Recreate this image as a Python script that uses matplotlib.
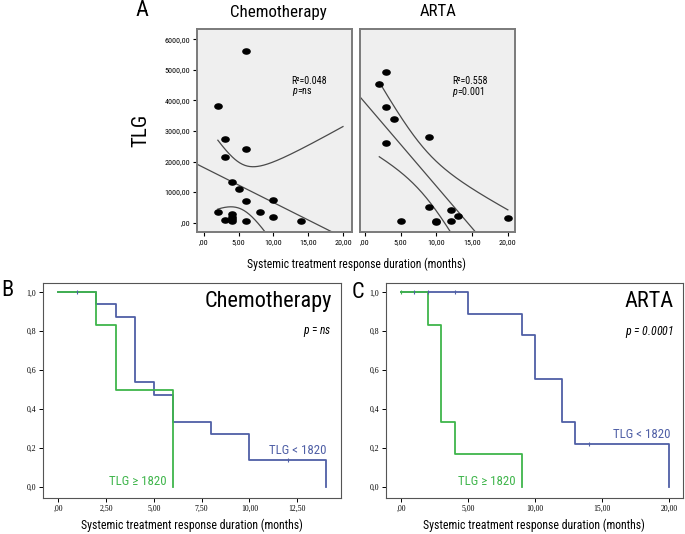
import matplotlib
matplotlib.use("Agg")
import matplotlib.pyplot as plt
from matplotlib import font_manager
from matplotlib.path import Path
import numpy as np

# pick a condensed sans if one is installed, else shrink Liberation Sans
_names = {f.name for f in font_manager.fontManager.ttflist}
NARROW = None
for cand in ['Liberation Sans Narrow', 'Roboto Condensed', 'Open Sans Condensed',
             'Arial Narrow']:
    if cand in _names:
        NARROW = cand
        break
if NARROW:
    FAM = NARROW
    S = 1.0
else:
    FAM = 'Liberation Sans'
    S = 0.86
plt.rcParams['font.family'] = [FAM, 'Liberation Sans', 'DejaVu Sans']
plt.rcParams['mathtext.fontset'] = 'custom'
plt.rcParams['mathtext.rm'] = FAM
plt.rcParams['mathtext.it'] = FAM + ':italic'

# --- panel A: scatter, TLG vs response duration ---
chemo_x = [6, 2, 3, 6, 3, 4, 5, 6, 10, 2, 8, 4, 4, 4, 4, 3, 6, 10, 14]
chemo_y = [5600, 3820, 2730, 2410, 2160, 1330, 1090, 700, 740, 340, 340,
           280, 200, 120, 50, 90, 45, 200, 65]
arta_x = [3, 2, 3, 4, 9, 3, 9, 12, 13, 5, 10, 10, 12, 20]
arta_y = [4940, 4530, 3780, 3400, 2790, 2610, 500, 410, 220, 65, 45, 20, 44, 140]
t_crit = {17: 2.110, 12: 2.179}   # two-sided 95% t values

# --- panels B, C: Kaplan-Meier steps ---
b_low_t = [0, 2, 3, 4, 5, 6, 8, 10, 14]
b_low_s = [1.0, 0.94, 0.875, 0.54, 0.47, 0.335, 0.27, 0.135, 0.0]
b_low_cens = [(1, 1.0), (12, 0.135)]
b_high_t = [0, 2, 3, 6]
b_high_s = [1.0, 0.833, 0.5, 0.0]

c_low_t = [0, 5, 9, 10, 12, 13, 20]
c_low_s = [1.0, 0.889, 0.778, 0.556, 0.333, 0.222, 0.0]
c_low_cens = [(1, 1.0), (2, 1.0), (4, 1.0), (14, 0.222)]
c_high_t = [0, 2, 3, 4, 9]
c_high_s = [1.0, 0.833, 0.333, 0.167, 0.0]
c_high_cens = [(0, 1.0)]

BLUE = '#4f5fa6'
GREEN = '#3fb54b'

_th = np.linspace(0, 2 * np.pi, 40)
DOT = Path(np.column_stack([1.4 * np.cos(_th), np.sin(_th)]), closed=True)


def comma(v, dec):
    s = f"{v:.{dec}f}".replace('.', ',')
    if s.startswith('0,') and dec == 2:
        s = s[1:]
    return s


def scatter_panel(ax, x, y, r2txt, ptxt, show_y, tx):
    x = np.array(x, float)
    y = np.array(y, float)
    ax.set_facecolor('#efefef')
    ax.plot(x, y, ls='none', marker=DOT, color='black', ms=5.2, mec='black',
            zorder=3)
    n = len(x)
    b, a = np.polyfit(x, y, 1)
    xx = np.linspace(-2, 22, 200)
    ax.plot(xx, a + b * xx, color='#4a4a4a', lw=0.9)
    s = np.sqrt(np.sum((y - (a + b * x)) ** 2) / (n - 2))
    sxx = np.sum((x - x.mean()) ** 2)
    xc = np.linspace(x.min(), 20, 200)
    h = t_crit[n - 2] * s * np.sqrt(1 / n + (xc - x.mean()) ** 2 / sxx)
    ax.plot(xc, a + b * xc + h, color='#4a4a4a', lw=0.9)
    ax.plot(xc, a + b * xc - h, color='#4a4a4a', lw=0.9)
    ax.set_ylim(-305, 6350)
    ax.set_xticks([0, 5, 10, 15, 20])
    ax.set_xticklabels([comma(v, 2) for v in [0, 5, 10, 15, 20]])
    ax.set_yticks(range(0, 7000, 1000))
    if show_y:
        ax.set_yticklabels([comma(v, 2) for v in range(0, 7000, 1000)])
    else:
        ax.tick_params(axis='y', left=False, labelleft=False)
    ax.tick_params(labelsize=5.8, length=3, width=0.8, pad=2)
    for sp in ax.spines.values():
        sp.set_color('#7a7a7a')
        sp.set_linewidth(1.4)
    ax.text(tx, 0.742, r2txt, transform=ax.transAxes, fontsize=7.2 * S,
            va='center')
    ax.text(tx, 0.688, ptxt, transform=ax.transAxes, fontsize=7.2 * S,
            va='center')


def km_panel(ax, lo_t, lo_s, lo_c, hi_t, hi_s, hi_c, xticks):
    ax.step(lo_t, lo_s, where='post', color=BLUE, lw=1.3)
    ax.step(hi_t, hi_s, where='post', color=GREEN, lw=1.3)
    for tx, sy in lo_c:
        ax.plot(tx, sy, marker='|', color=BLUE, ms=3, mew=0.8)
    for tx, sy in hi_c:
        ax.plot(tx, sy, marker='|', color=GREEN, ms=3, mew=0.8)
    ax.set_ylim(-0.058, 1.048)
    ax.set_xticks(xticks)
    ax.set_xticklabels([comma(v, 2) for v in xticks],
                       family=['Liberation Serif'])
    ax.set_yticks(np.arange(0, 1.01, 0.2))
    ax.set_yticklabels([comma(v, 1) for v in np.arange(0, 1.01, 0.2)],
                       family=['Liberation Serif'])
    ax.tick_params(labelsize=5.6, length=3, width=0.7, pad=2)
    for sp in ax.spines.values():
        sp.set_color('#555555')
        sp.set_linewidth(0.8)
    ax.set_xlabel('Systemic treatment response duration (months)',
                  fontsize=8.5 * S, labelpad=4)


fig = plt.figure(figsize=(6.85, 5.34), dpi=100)

ax1 = fig.add_axes([197 / 685, 1 - 232 / 534, 155 / 685, 203.5 / 534])
scatter_panel(ax1, chemo_x, chemo_y, 'R²=0.048', '$p$=ns', True, 0.61)
ax1.set_xlim(-1.0, 21.3)
fig.text(278 / 685, 1 - 12 / 534, 'Chemotherapy', fontsize=12.2 * S,
         ha='center', va='center')
ax1.set_ylabel('TLG', fontsize=15 * S, labelpad=10)

ax2 = fig.add_axes([360 / 685, 1 - 232 / 534, 155 / 685, 203.5 / 534])
scatter_panel(ax2, arta_x, arta_y, 'R²=0.558', '$p$=0.001', False, 0.594)
ax2.set_xlim(-0.7, 21.0)
fig.text(438 / 685, 1 - 12 / 534, 'ARTA', fontsize=12.2 * S,
         ha='center', va='center')

fig.text(356 / 685, 1 - 264 / 534, 'Systemic treatment response duration (months)',
         fontsize=8.4 * S, ha='center', va='center')
fig.text(135 / 685, 1 - 11 / 534, 'A', fontsize=16 * S, ha='left', va='center')

ax3 = fig.add_axes([43.3 / 685, 1 - 498 / 534, 297.4 / 685, 215 / 534])
km_panel(ax3, b_low_t, b_low_s, b_low_cens, b_high_t, b_high_s, [],
         [0, 2.5, 5, 7.5, 10, 12.5])
ax3.set_xlim(-0.78, 14.77)
ax3.text(0.97, 0.912, 'Chemotherapy', transform=ax3.transAxes, fontsize=16 * S,
         ha='right', va='center')
ax3.text(0.97, 0.772, '$p$ = $ns$', transform=ax3.transAxes, fontsize=8.3 * S,
         ha='right', va='center')
ax3.text(11.0, 0.184, 'TLG < 1820', color=BLUE, fontsize=9.3 * S,
         ha='left', va='center')
ax3.text(5.69, 0.029, 'TLG ≥ 1820', color=GREEN, fontsize=9.3 * S,
         ha='right', va='center')
fig.text(1 / 685, 1 - 291 / 534, 'B', fontsize=16 * S, ha='left', va='center')

ax4 = fig.add_axes([386 / 685, 1 - 498 / 534, 296.7 / 685, 215 / 534])
km_panel(ax4, c_low_t, c_low_s, c_low_cens, c_high_t, c_high_s, c_high_cens,
         [0, 5, 10, 15, 20])
ax4.set_xlim(-1.12, 20.99)
ax4.text(0.97, 0.912, 'ARTA', transform=ax4.transAxes, fontsize=16 * S,
         ha='right', va='center')
ax4.text(0.97, 0.772, '$p$ = 0.0001', transform=ax4.transAxes, fontsize=8.6 * S,
         ha='right', va='center', style='italic')
ax4.text(15.8, 0.271, 'TLG < 1820', color=BLUE, fontsize=9.3 * S,
         ha='left', va='center')
ax4.text(8.57, 0.029, 'TLG ≥ 1820', color=GREEN, fontsize=9.3 * S,
         ha='right', va='center')
fig.text(352 / 685, 1 - 292 / 534, 'C', fontsize=16 * S, ha='left', va='center')

fig.savefig('out.png', dpi=100)
